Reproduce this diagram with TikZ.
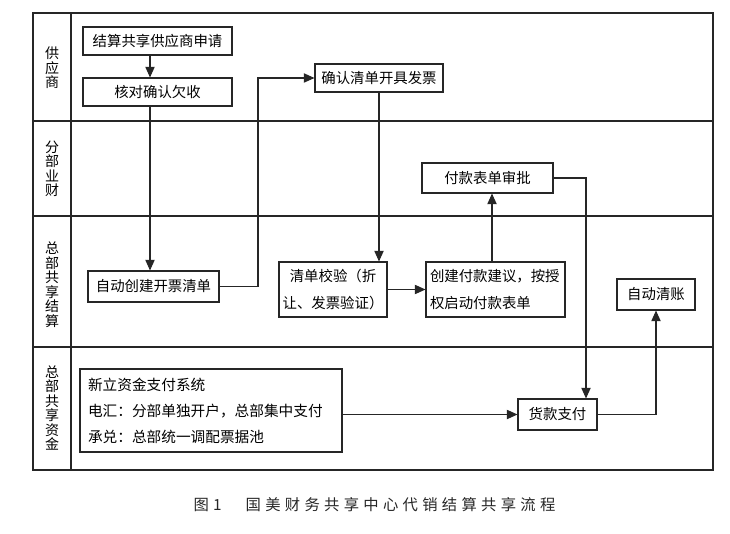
\documentclass[tikz,border=0pt]{standalone}
\usepackage{fontspec}
\setmainfont{Noto Sans CJK SC}
\usetikzlibrary{arrows.meta}
\tikzset{
	proc/.style={draw=black!85, line width=0.8pt, inner sep=2pt, font=\fontsize{10.8pt}{20pt}\selectfont},
	lanetxt/.style={align=center, inner sep=0pt, font=\fontsize{10.5pt}{10.9pt}\selectfont},
	flow/.style={draw=black!85, line width=0.8pt, -{Triangle[length=8pt,width=7pt]}},
	frame/.style={draw=black!85, line width=0.8pt},
}

\begin{document}
\begin{tikzpicture}[x=0.75pt, y=-0.75pt]
			%%%%% START %%%%%
			\useasboundingbox (0,0) rectangle (730,534);
			
			\draw[frame] (33,13) rectangle (713,470);
			\draw[frame] (71,13) -- (71,470);
			\draw[frame] (33,121) -- (713,121);
			\draw[frame] (33,216) -- (713,216);
			\draw[frame] (33,347) -- (713,347);
			
			\node[lanetxt] (supp) at (52,68) {供\\应\\商};
			\node[lanetxt] (branch) at (52,169) {分\\部\\业\\财};
			\node[lanetxt] (settle) at (52,284.5) {总\\部\\共\\享\\结\\算};
			\node[lanetxt] (fund) at (52,408) {总\\部\\共\\享\\资\\金};
			
			\node[proc, minimum width=111.75pt, minimum height=21pt] (apply) at (157.5,41) {结算共享供应商申请};
			\node[proc, minimum width=111.75pt, minimum height=21pt] (check) at (157.5,92) {核对确认欠收};
			\node[proc, minimum width=98.25pt, minimum height=23.25pt] (list) at (153.5,286.5) {自动创建开票清单};
			\node[proc, minimum width=96pt, minimum height=21pt] (invoice) at (379,78) {确认清单开具发票};
			\node[proc, minimum width=81pt, minimum height=41.25pt, align=center] (verify) at (333,289.5) {清单校验（折\\让、发票验证）};
			\node[proc, minimum width=104.25pt, minimum height=41.25pt, text width=98.25pt, align=left] (propose) at (495.5,289.5) {创建付款建议，按授\\权启动付款表单};
			\node[proc, minimum width=98.25pt, minimum height=22.5pt] (approve) at (487.5,178) {付款表单审批};
			\node[proc, minimum width=59.25pt, minimum height=23.25pt] (pay) at (557.5,414.5) {货款支付};
			\node[proc, minimum width=196.5pt, minimum height=62.25pt, text width=184.5pt, align=left, font=\fontsize{11pt}{19.5pt}\selectfont] (system) at (211,410.5) {新立资金支付系统\\电汇：分部单独开户，总部集中支付\\承兑：总部统一调配票据池};
			\node[proc, minimum width=58.5pt, minimum height=23.25pt] (clear) at (656,294.5) {自动清账};
			
			\coordinate (c1) at (150,0);
			\coordinate (c2) at (258,0);
			\coordinate (c3) at (492,0);
			\coordinate (c4) at (586,0);
			
			\draw[flow] (apply.south -| c1) -- (check.north -| c1);
			\draw[flow] (check.south -| c1) -- (list.north -| c1);
			\draw[flow] (list.east) -| (c2 |- invoice.west) -- (invoice.west);
			\draw[flow] (invoice.south) -- (invoice.south |- verify.north);
			\draw[flow] (verify.east) -- (propose.west);
			\draw[flow] (propose.north -| c3) -- (approve.south -| c3);
			\draw[flow] (approve.east) -| (c4 |- pay.north);
			\draw[flow] (system.east |- pay.west) -- (pay.west);
			\draw[flow] (pay.east) -| (clear.south);
			
			\node[font=\fontsize{11.5pt}{13pt}\selectfont\addfontfeature{LetterSpace=28}, text=black!85] (caption) at (374.5,505) {图1　国美财务共享中心代销结算共享流程};
			
			%%%%% END %%%%%
\end{tikzpicture}
\end{document}
